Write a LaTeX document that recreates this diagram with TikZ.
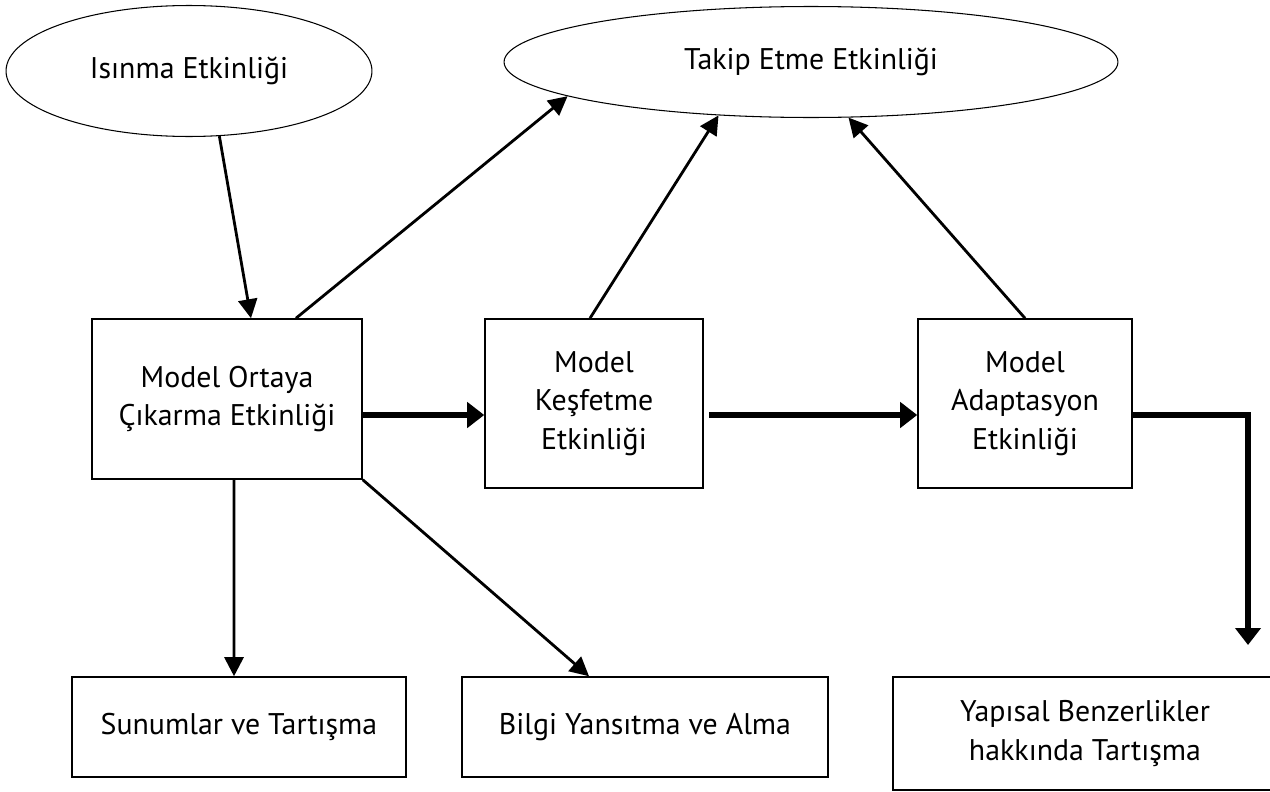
\documentclass[tikz,border=0pt]{standalone}
\usepackage{fontspec}
\setmainfont{PT Sans}
\usetikzlibrary{arrows.meta,calc,shapes.geometric}
\tikzset{>={Triangle[length=0.38cm,width=0.38cm]}}
\tikzset{
  etk/.style={draw,ellipse,line width=0.6pt,inner sep=0pt},
  kutu/.style={draw,rectangle,line width=0.9pt,align=center,inner sep=0pt},
  ince/.style={->,line width=1.6pt},
  kalin/.style={-{Triangle[length=0.34cm,width=0.5cm]},line width=3.4pt},
}

\begin{document}
\begin{tikzpicture}[x=0.02cm,y=-0.02cm,font=\fontsize{17}{22}\selectfont]
		\useasboundingbox (0,0) rectangle (1270,791);
		\node[etk,minimum width=7.32cm,minimum height=2.62cm] (isinma) at (189,71) {Isınma Etkinliği};
		\node[etk,minimum width=12.28cm,minimum height=2.22cm] (takip) at (811,62) {Takip Etme Etkinliği};
		\node[kutu,minimum width=5.4cm,minimum height=3.2cm] (ortaya) at (227,399) {Model Ortaya\\Çıkarma Etkinliği};
		\node[kutu,minimum width=4.36cm,minimum height=3.38cm] (kesfetme) at (594,403.5) {Model\\Keşfetme\\Etkinliği};
		\node[kutu,minimum width=4.28cm,minimum height=3.38cm] (adaptasyon) at (1025,403.5) {Model\\Adaptasyon\\Etkinliği};
		\node[kutu,minimum width=6.68cm,minimum height=2cm] (sunumlar) at (239,727) {Sunumlar ve Tartışma};
		\node[kutu,minimum width=7.32cm,minimum height=2cm] (bilgi) at (645,727) {Bilgi Yansıtma ve Alma};
		\node[kutu,minimum width=7.68cm,minimum height=2.26cm] (yapisal) at (1085,733.5) {Yapısal Benzerlikler\\hakkında Tartışma};
		\coordinate (sira) at (0,415);
		\coordinate (ucnokta) at (1248,645);

		\draw[ince] (isinma.295) -- ([xshift=0.48cm]ortaya.north);
		\draw[ince] ([xshift=1.38cm]ortaya.north) -- (takip.188);
		\draw[ince] ([xshift=-0.08cm]kesfetme.north) -- (takip.210);
		\draw[ince] (adaptasyon.north) -- (takip.304);

		\draw[ince] ([xshift=0.14cm]ortaya.south) -- ([xshift=-0.1cm]sunumlar.north);
		\draw[ince] (ortaya.south east) -- ([xshift=-1.12cm]bilgi.north);

		\draw[kalin] (ortaya.east |- sira) -- (kesfetme.west |- sira);
		\draw[kalin] ([xshift=0.1cm]kesfetme.east |- sira) -- (adaptasyon.west |- sira);
		\draw[kalin] (adaptasyon.east |- sira) -| (ucnokta);
	\end{tikzpicture}
\end{document}
